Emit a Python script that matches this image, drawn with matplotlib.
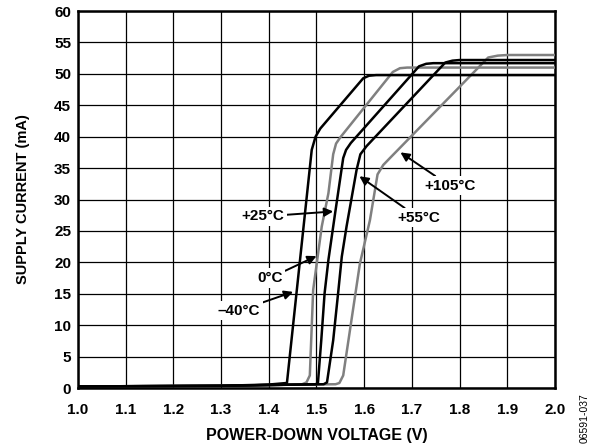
import matplotlib
matplotlib.use("Agg")
import matplotlib.pyplot as plt

plt.rcParams["font.family"] = ["Liberation Sans", "DejaVu Sans"]
plt.rcParams["font.weight"] = "bold"

# ---------- data ----------
V_M40 = [1.0, 1.30, 1.40, 1.438, 1.490, 1.498, 1.508, 1.598, 1.610, 1.625, 2.0]
I_M40 = [0.25, 0.35, 0.55, 0.8, 37.9, 40.0, 41.3, 49.3, 49.7, 49.8, 49.8]

V_0 = [1.0, 1.30, 1.42, 1.470, 1.479, 1.486, 1.493, 1.511, 1.525, 1.535, 1.541, 1.550, 1.660, 1.675, 1.690, 2.0]
I_0 = [0.25, 0.35, 0.5, 0.6, 0.9, 2.0, 15.6, 25.7, 31.0, 37.2, 38.9, 39.9, 50.3, 50.9, 51.0, 51.0]

V_25 = [1.0, 1.30, 1.42, 1.498, 1.503, 1.510, 1.517, 1.525, 1.539, 1.556, 1.562, 1.572, 1.715, 1.730, 1.745, 2.0]
I_25 = [0.25, 0.35, 0.5, 0.6, 0.8, 7.6, 15.1, 20.4, 27.8, 36.6, 37.9, 39.0, 51.2, 51.6, 51.7, 51.7]

V_55 = [1.0, 1.30, 1.42, 1.515, 1.522, 1.535, 1.546, 1.553, 1.563, 1.584, 1.592, 1.605, 1.770, 1.785, 1.800, 2.0]
I_55 = [0.25, 0.35, 0.5, 0.6, 0.9, 7.6, 15.6, 20.9, 25.7, 34.7, 37.2, 38.5, 51.8, 52.1, 52.2, 52.2]

V_105 = [1.0, 1.30, 1.42, 1.540, 1.548, 1.556, 1.567, 1.591, 1.612, 1.628, 1.640, 1.654, 1.860, 1.880, 1.900, 2.0]
I_105 = [0.25, 0.35, 0.5, 0.6, 0.8, 2.0, 7.6, 19.8, 26.7, 34.0, 35.5, 36.6, 52.6, 52.9, 53.0, 53.0]

CURVES = [
    (V_0, I_0, "#808080"),
    (V_105, I_105, "#808080"),
    (V_M40, I_M40, "black"),
    (V_25, I_25, "black"),
    (V_55, I_55, "black"),
]

# label text, text position (V, mA), arrow tip (V, mA)
LABELS = [
    ("+105°C", (1.779, 32.2), (1.676, 37.5)),
    ("+55°C", (1.714, 27.1), (1.590, 33.7)),
    ("+25°C", (1.387, 27.3), (1.535, 28.1)),
    ("0°C", (1.402, 17.5), (1.500, 21.0)),
    ("\u201340°C", (1.337, 12.3), (1.451, 15.3)),
]

X_TICKS = [1.0 + 0.1 * k for k in range(11)]
Y_TICKS = list(range(0, 61, 5))

# ---------- plot ----------
fig = plt.figure(figsize=(5.97, 4.48), dpi=100)
ax = fig.add_axes([0.1307, 0.1339, 0.7989, 0.8415])

for v, i, c in CURVES:
    ax.plot(v, i, color=c, lw=1.8, solid_joinstyle="round", zorder=3)

for txt, xy_text, xy_tip in LABELS:
    ax.annotate(txt, xy=xy_tip, xytext=xy_text, fontsize=11, fontweight="bold",
                ha="center", va="center", zorder=4,
                bbox=dict(facecolor="white", edgecolor="none", pad=2),
                arrowprops=dict(arrowstyle="-|>", color="black", lw=1.4,
                                mutation_scale=13, shrinkA=0, shrinkB=0))

ax.set_xlim(1.0, 2.0)
ax.set_ylim(0, 60)
ax.set_xticks(X_TICKS)
ax.set_xticklabels([f"{x:.1f}" for x in X_TICKS])
ax.set_yticks(Y_TICKS)
ax.tick_params(length=0, labelsize=11)
ax.tick_params(axis="x", pad=11)
ax.tick_params(axis="y", pad=5)
ax.grid(True, color="black", lw=0.9)
ax.set_axisbelow(True)
for s in ax.spines.values():
    s.set_linewidth(1.8)

ax.set_xlabel("POWER-DOWN VOLTAGE (V)", fontsize=11.5, fontweight="bold", labelpad=8)
ax.set_ylabel("SUPPLY CURRENT (mA)", fontsize=10.5, fontweight="bold", labelpad=17)

fig.text(585 / 597, 1 - 418 / 448, "06591-037", rotation=90, fontsize=7.5,
         fontweight="normal", ha="center", va="center")

fig.savefig("out.png", dpi=100)
